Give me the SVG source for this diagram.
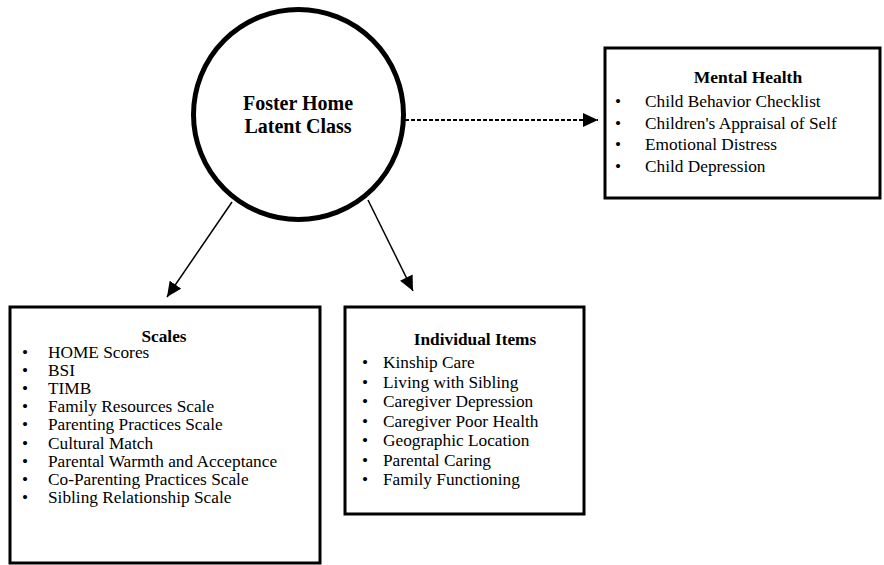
<svg xmlns="http://www.w3.org/2000/svg" width="884" height="565" viewBox="0 0 884 565">
<style>
text{font-family:"Liberation Serif","Times New Roman",serif;fill:#000;font-size:17.3px}
.t{font-weight:bold;text-anchor:middle}
.c{font-weight:bold;font-size:20px;text-anchor:middle}
.box{fill:#fff;stroke:#000;stroke-width:3}
.ln{stroke:#000;stroke-width:1.5;fill:none}
.dl{stroke:#000;stroke-width:2;fill:none;stroke-dasharray:4 2}
</style>
<defs>
<marker id="ah" markerUnits="userSpaceOnUse" markerWidth="16" markerHeight="14" refX="15" refY="7" orient="auto">
<path d="M0,0 L15,7 L0,14 Z" fill="#000"/>
</marker>
</defs>
<rect width="884" height="565" fill="#fff"/>
<g id="connectors">
<line class="ln" x1="232" y1="202" x2="167" y2="297" marker-end="url(#ah)"/>
<line class="ln" x1="368" y1="200" x2="413" y2="291" marker-end="url(#ah)"/>
<line class="dl" x1="405" y1="120" x2="598" y2="120" marker-end="url(#ah)"/>
</g>
<g id="latent">
<circle cx="298.5" cy="114.5" r="105" fill="#fff" stroke="#000" stroke-width="5"/>
<text class="c" x="298" y="110">Foster Home</text>
<text class="c" x="298" y="133">Latent Class</text>
</g>
<g id="mental">
<rect class="box" x="605" y="48" width="275" height="150"/>
<text class="t" x="748" y="83" style="font-size:17.5px">Mental Health</text>
<g>
<text x="615" y="107">•</text><text x="645" y="107">Child Behavior Checklist</text>
<text x="615" y="128.5">•</text><text x="645" y="128.5">Children's Appraisal of Self</text>
<text x="615" y="150">•</text><text x="645" y="150">Emotional Distress</text>
<text x="615" y="171.5">•</text><text x="645" y="171.5">Child Depression</text>
</g>
</g>
<g id="scales">
<rect class="box" x="10" y="307" width="310" height="256"/>
<text class="t" x="164" y="342">Scales</text>
<text x="22" y="357.5">•</text><text x="48" y="357.5">HOME Scores</text>
<text x="22" y="375.7">•</text><text x="48" y="375.7">BSI</text>
<text x="22" y="393.9">•</text><text x="48" y="393.9">TIMB</text>
<text x="22" y="412.1">•</text><text x="48" y="412.1">Family Resources Scale</text>
<text x="22" y="430.3">•</text><text x="48" y="430.3">Parenting Practices Scale</text>
<text x="22" y="448.5">•</text><text x="48" y="448.5">Cultural Match</text>
<text x="22" y="466.7">•</text><text x="48" y="466.7">Parental Warmth and Acceptance</text>
<text x="22" y="484.9">•</text><text x="48" y="484.9">Co-Parenting Practices Scale</text>
<text x="22" y="503.1">•</text><text x="48" y="503.1">Sibling Relationship Scale</text>
</g>
<g id="items">
<rect class="box" x="345" y="307" width="239" height="207"/>
<text class="t" x="475" y="345">Individual Items</text>
<text x="362" y="368">•</text><text x="383" y="368">Kinship Care</text>
<text x="362" y="387.5">•</text><text x="383" y="387.5">Living with Sibling</text>
<text x="362" y="407">•</text><text x="383" y="407">Caregiver Depression</text>
<text x="362" y="426.5">•</text><text x="383" y="426.5">Caregiver Poor Health</text>
<text x="362" y="446">•</text><text x="383" y="446">Geographic Location</text>
<text x="362" y="465.5">•</text><text x="383" y="465.5">Parental Caring</text>
<text x="362" y="485">•</text><text x="383" y="485">Family Functioning</text>
</g>
</svg>
